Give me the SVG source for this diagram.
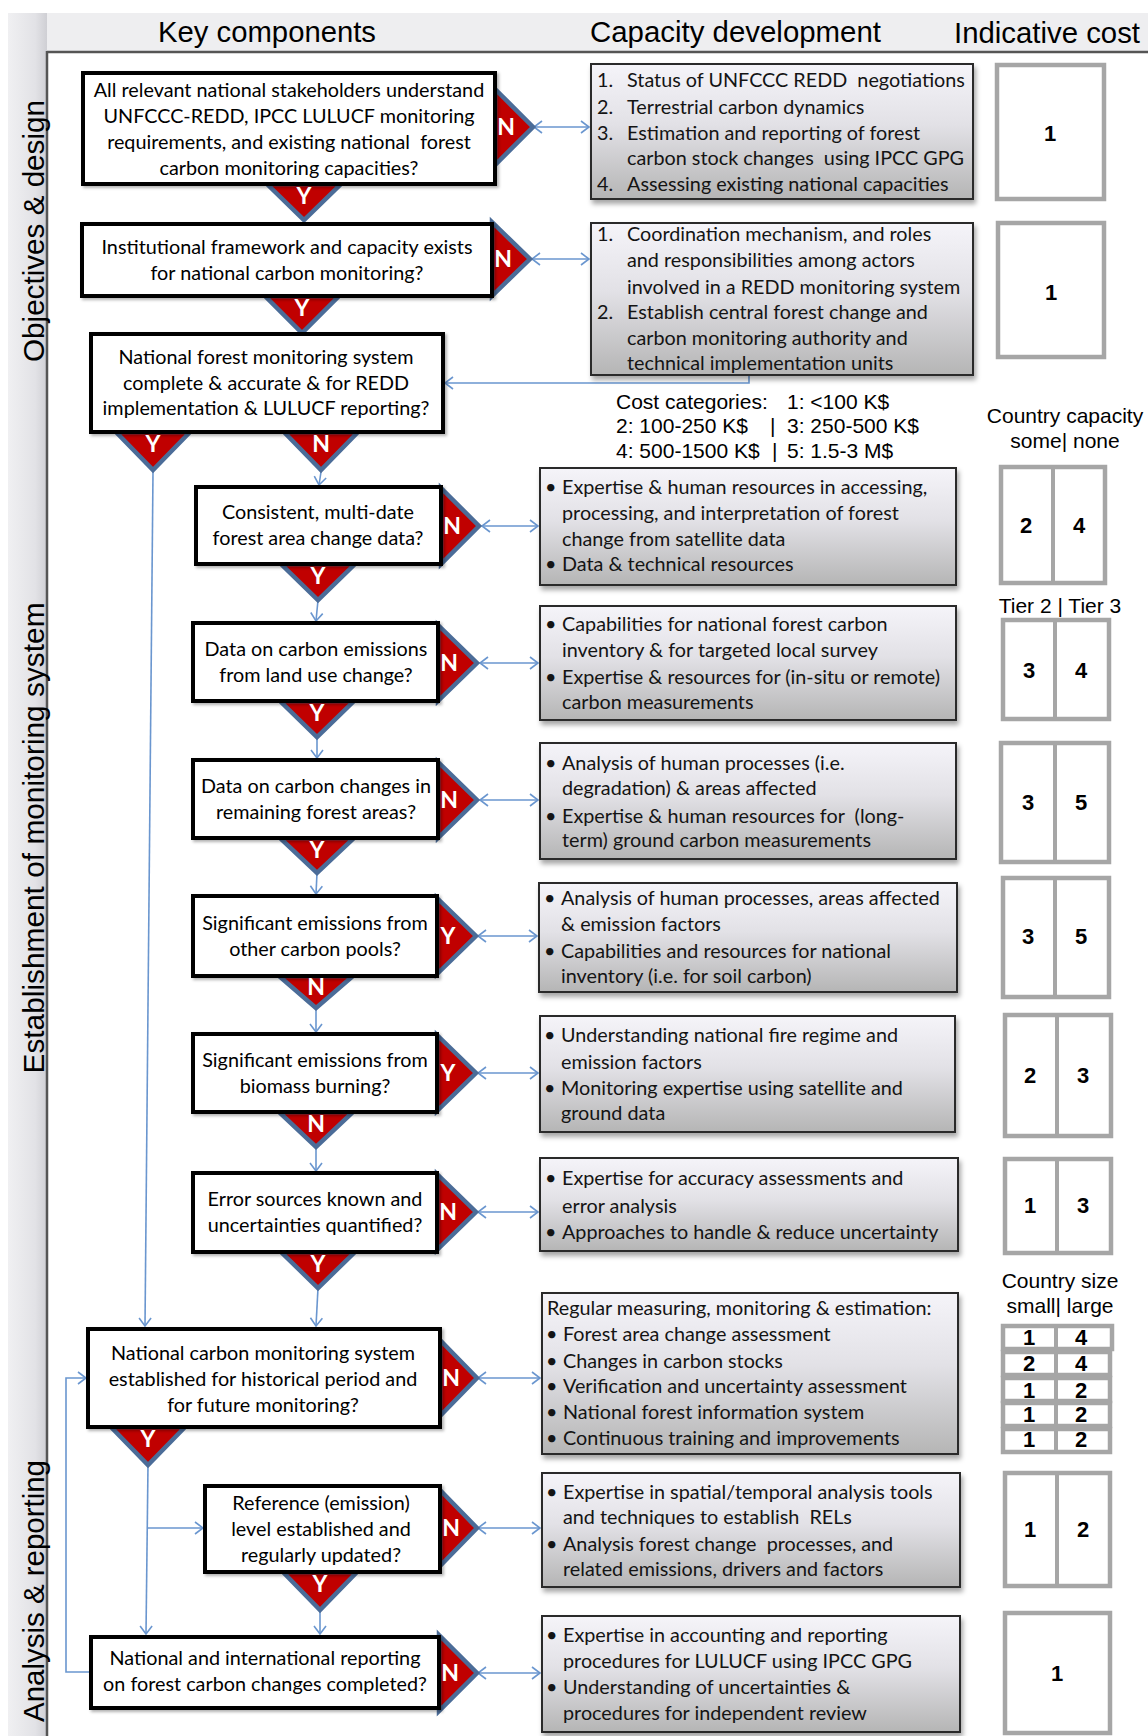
<svg xmlns="http://www.w3.org/2000/svg" width="1148" height="1736" viewBox="0 0 1148 1736">
<defs>
<style>
.kb{fill:#fff;stroke:#000;stroke-width:4;filter:url(#ks)}
.kt{font-family:Lato,"Liberation Sans",sans-serif;font-size:19.8px;text-anchor:middle;fill:#000}
.cb{fill:url(#cg);stroke:#2b2b2b;stroke-width:2;filter:url(#cs)}
.ct{font-family:Lato,"Liberation Sans",sans-serif;font-size:19.8px;fill:#141414}
.tr{fill:#C00000;stroke:#4B6C98;stroke-width:4.5;stroke-linejoin:miter}
.yn{font-family:Lato,"Liberation Sans",sans-serif;font-weight:700;font-size:23px;fill:#fff;text-anchor:middle}
.co{fill:#fff;stroke:#A6A6A6;stroke-width:4.5}
.cd{stroke:#A6A6A6;stroke-width:4}
.cn{font-family:"Liberation Sans",Arial,sans-serif;font-weight:700;font-size:22px;text-anchor:middle;fill:#000}
.ln{fill:none;stroke:#6A96CF;stroke-width:1.6}
.hd{font-family:"Liberation Sans",Arial,sans-serif;font-size:29px;fill:#000}
.lg{font-family:"Liberation Sans",Arial,sans-serif;font-size:21px;fill:#000}
</style>
<linearGradient id="cg" x1="0" y1="0" x2="0" y2="1">
<stop offset="0" stop-color="#F5F4F9"/>
<stop offset="0.45" stop-color="#E2E1E6"/>
<stop offset="1" stop-color="#B5B5B5"/>
</linearGradient>
<linearGradient id="lg" x1="0" y1="0" x2="1" y2="0">
<stop offset="0" stop-color="#F0F0F2"/>
<stop offset="0.7" stop-color="#E2E2E6"/>
<stop offset="1" stop-color="#CFCFD4"/>
</linearGradient>
<filter id="ks" x="-5%" y="-5%" width="112%" height="115%">
<feDropShadow dx="2" dy="2" stdDeviation="1.5" flood-color="#000" flood-opacity="0.3"/>
</filter>
<filter id="cs" x="-5%" y="-5%" width="112%" height="120%">
<feDropShadow dx="2" dy="4" stdDeviation="2.5" flood-color="#000" flood-opacity="0.35"/>
</filter>
<marker id="ah" viewBox="0 0 10 14" refX="9" refY="7" markerWidth="10" markerHeight="14" markerUnits="userSpaceOnUse" orient="auto-start-reverse">
<path d="M1,1 L9,7 L1,13" fill="none" stroke="#6A96CF" stroke-width="1.6"/>
</marker>
</defs>

<rect width="1148" height="1736" fill="#fff"/>

<g id="frame">
<rect x="8" y="13" width="1140" height="39" fill="#EEEEF0"/>
<rect x="8" y="13" width="39" height="1723" fill="url(#lg)"/>
<path d="M47,52 H1148 M47,51 V1736" stroke="#555" stroke-width="2.5" fill="none"/>
<text class="hd" x="158" y="42" textLength="218" lengthAdjust="spacingAndGlyphs">Key components</text>
<text class="hd" x="590" y="42" textLength="291" lengthAdjust="spacingAndGlyphs">Capacity development</text>
<text class="hd" x="954" y="43" textLength="186" lengthAdjust="spacingAndGlyphs">Indicative cost</text>
<text class="hd" transform="translate(44,231) rotate(-90)" text-anchor="middle" textLength="262" lengthAdjust="spacingAndGlyphs">Objectives &amp; design</text>
<text class="hd" transform="translate(44,838) rotate(-90)" text-anchor="middle" textLength="471" lengthAdjust="spacingAndGlyphs">Establishment of monitoring system</text>
<text class="hd" transform="translate(44,1591) rotate(-90)" text-anchor="middle" textLength="262" lengthAdjust="spacingAndGlyphs">Analysis &amp; reporting</text>
</g>

<g id="connectors">
<path class="ln" d="M534,127 H589" marker-start="url(#ah)" marker-end="url(#ah)"/>
<path class="ln" d="M532,259 H589" marker-start="url(#ah)" marker-end="url(#ah)"/>
<path class="ln" d="M749,376 V383 H445" marker-end="url(#ah)"/>
<path class="ln" d="M321,472 L319,485" marker-end="url(#ah)"/>
<path class="ln" d="M153,472 L145,1326" marker-end="url(#ah)"/>
<path class="ln" d="M482,526 H538" marker-start="url(#ah)" marker-end="url(#ah)"/>
<path class="ln" d="M318,600 L316,621" marker-end="url(#ah)"/>
<path class="ln" d="M480,663 H538" marker-start="url(#ah)" marker-end="url(#ah)"/>
<path class="ln" d="M317,737 V758" marker-end="url(#ah)"/>
<path class="ln" d="M480,800 H538" marker-start="url(#ah)" marker-end="url(#ah)"/>
<path class="ln" d="M317,873 L316,894" marker-end="url(#ah)"/>
<path class="ln" d="M478,936 H537" marker-start="url(#ah)" marker-end="url(#ah)"/>
<path class="ln" d="M316,1008 V1032" marker-end="url(#ah)"/>
<path class="ln" d="M478,1073 H538" marker-start="url(#ah)" marker-end="url(#ah)"/>
<path class="ln" d="M316,1147 V1171" marker-end="url(#ah)"/>
<path class="ln" d="M478,1212 H538" marker-start="url(#ah)" marker-end="url(#ah)"/>
<path class="ln" d="M318,1288 L316,1326" marker-end="url(#ah)"/>
<path class="ln" d="M478,1378 H540" marker-start="url(#ah)" marker-end="url(#ah)"/>
<path class="ln" d="M148,1465 L146,1634" marker-end="url(#ah)"/>
<path class="ln" d="M147,1528 H203" marker-end="url(#ah)"/>
<path class="ln" d="M478,1528 H540" marker-start="url(#ah)" marker-end="url(#ah)"/>
<path class="ln" d="M320,1610 V1634" marker-end="url(#ah)"/>
<path class="ln" d="M478,1673 H540" marker-start="url(#ah)" marker-end="url(#ah)"/>
<path class="ln" d="M89,1672 H66 V1378 H86" marker-end="url(#ah)"/>
</g>

<g id="k1">
<polygon class="tr" points="495,89 533,127 495,165"/>
<polygon class="tr" points="267,184 341,184 304,220"/>
<rect class="kb" x="83" y="73" width="412" height="111"/>
<text class="kt" xml:space="preserve"><tspan x="289" y="97">All relevant national stakeholders understand</tspan><tspan x="289" y="123">UNFCCC-REDD, IPCC LULUCF monitoring</tspan><tspan x="289" y="149">requirements, and existing national  forest</tspan><tspan x="289" y="175">carbon monitoring capacities?</tspan></text>
<text class="yn" x="506" y="135">N</text>
<text class="yn" x="304" y="204">Y</text>
</g>

<g id="k2">
<polygon class="tr" points="492,222 530,259 492,296"/>
<polygon class="tr" points="265,296 339,296 302,333"/>
<rect class="kb" x="82" y="224" width="410" height="72"/>
<text class="kt"><tspan x="287" y="254">Institutional framework and capacity exists</tspan><tspan x="287" y="280">for national carbon monitoring?</tspan></text>
<text class="yn" x="503" y="267">N</text>
<text class="yn" x="302" y="316">Y</text>
</g>

<g id="k3">
<polygon class="tr" points="116,432 190,432 153,470"/>
<polygon class="tr" points="284,432 358,432 321,470"/>
<rect class="kb" x="91" y="334" width="352" height="98"/>
<text class="kt"><tspan x="266" y="364">National forest monitoring system</tspan><tspan x="266" y="390">complete &amp; accurate &amp; for REDD</tspan><tspan x="266" y="415">implementation &amp; LULUCF reporting?</tspan></text>
<text class="yn" x="153" y="452">Y</text>
<text class="yn" x="321" y="452">N</text>
</g>

<g id="k4">
<polygon class="tr" points="441,488 479,526 441,564"/>
<polygon class="tr" points="281,564 355,564 318,600"/>
<rect class="kb" x="196" y="487" width="245" height="77"/>
<text class="kt"><tspan x="318" y="519">Consistent, multi-date</tspan><tspan x="318" y="545">forest area change data?</tspan></text>
<text class="yn" x="452" y="534">N</text>
<text class="yn" x="318" y="584">Y</text>
</g>

<g id="k5">
<polygon class="tr" points="438,625 477,663 438,701"/>
<polygon class="tr" points="280,701 354,701 317,737"/>
<rect class="kb" x="193" y="623" width="245" height="78"/>
<text class="kt"><tspan x="316" y="656">Data on carbon emissions</tspan><tspan x="316" y="682">from land use change?</tspan></text>
<text class="yn" x="449" y="671">N</text>
<text class="yn" x="317" y="721">Y</text>
</g>

<g id="k6">
<polygon class="tr" points="438,762 477,800 438,838"/>
<polygon class="tr" points="280,838 354,838 317,873"/>
<rect class="kb" x="193" y="760" width="245" height="78"/>
<text class="kt"><tspan x="316" y="793">Data on carbon changes in</tspan><tspan x="316" y="819">remaining forest areas?</tspan></text>
<text class="yn" x="449" y="808">N</text>
<text class="yn" x="317" y="858">Y</text>
</g>

<g id="k7">
<polygon class="tr" points="437,898 476,936 437,974"/>
<polygon class="tr" points="279,976 353,976 316,1008"/>
<rect class="kb" x="193" y="896" width="244" height="80"/>
<text class="kt"><tspan x="315" y="930">Significant emissions from</tspan><tspan x="315" y="956">other carbon pools?</tspan></text>
<text class="yn" x="448" y="944">Y</text>
<text class="yn" x="316" y="995">N</text>
</g>

<g id="k8">
<polygon class="tr" points="437,1035 476,1073 437,1111"/>
<polygon class="tr" points="279,1112 353,1112 316,1147"/>
<rect class="kb" x="193" y="1034" width="244" height="78"/>
<text class="kt"><tspan x="315" y="1067">Significant emissions from</tspan><tspan x="315" y="1093">biomass burning?</tspan></text>
<text class="yn" x="448" y="1081">Y</text>
<text class="yn" x="316" y="1132">N</text>
</g>

<g id="k9">
<polygon class="tr" points="437,1174 476,1212 437,1250"/>
<polygon class="tr" points="281,1252 355,1252 318,1288"/>
<rect class="kb" x="193" y="1173" width="244" height="79"/>
<text class="kt"><tspan x="315" y="1206">Error sources known and</tspan><tspan x="315" y="1232">uncertainties quantified?</tspan></text>
<text class="yn" x="448" y="1220">N</text>
<text class="yn" x="318" y="1272">Y</text>
</g>

<g id="k10">
<polygon class="tr" points="440,1340 477,1378 440,1416"/>
<polygon class="tr" points="111,1427 185,1427 148,1465"/>
<rect class="kb" x="88" y="1329" width="352" height="98"/>
<text class="kt"><tspan x="263" y="1360">National carbon monitoring system</tspan><tspan x="263" y="1386">established for historical period and</tspan><tspan x="263" y="1412">for future monitoring?</tspan></text>
<text class="yn" x="451" y="1386">N</text>
<text class="yn" x="148" y="1447">Y</text>
</g>

<g id="k11">
<polygon class="tr" points="440,1490 477,1528 440,1566"/>
<polygon class="tr" points="283,1572 357,1572 320,1610"/>
<rect class="kb" x="205" y="1486" width="235" height="86"/>
<text class="kt"><tspan x="321" y="1510">Reference (emission)</tspan><tspan x="321" y="1536">level established and</tspan><tspan x="321" y="1562">regularly updated?</tspan></text>
<text class="yn" x="451" y="1536">N</text>
<text class="yn" x="320" y="1592">Y</text>
</g>

<g id="k12">
<polygon class="tr" points="439,1635 477,1673 439,1711"/>
<rect class="kb" x="91" y="1637" width="348" height="71"/>
<text class="kt"><tspan x="265" y="1665">National and international reporting</tspan><tspan x="265" y="1691">on forest carbon changes completed?</tspan></text>
<text class="yn" x="450" y="1681">N</text>
</g>

<g id="cap1">
<rect class="cb" x="591" y="64" width="382" height="135"/>
<text class="ct" xml:space="preserve"><tspan x="597" y="87">1.</tspan><tspan x="627" y="87">Status of UNFCCC REDD  negotiations</tspan><tspan x="597" y="114">2.</tspan><tspan x="627" y="114">Terrestrial carbon dynamics</tspan><tspan x="597" y="140">3.</tspan><tspan x="627" y="140">Estimation and reporting of forest</tspan><tspan x="627" y="165">carbon stock changes  using IPCC GPG</tspan><tspan x="597" y="191">4.</tspan><tspan x="627" y="191">Assessing existing national capacities</tspan></text>
</g>

<g id="cap2">
<rect class="cb" x="591" y="223" width="382" height="152"/>
<text class="ct"><tspan x="597" y="241">1.</tspan><tspan x="627" y="241">Coordination mechanism, and roles</tspan><tspan x="627" y="267">and responsibilities among actors</tspan><tspan x="627" y="294">involved in a REDD monitoring system</tspan><tspan x="597" y="319">2.</tspan><tspan x="627" y="319">Establish central forest change and</tspan><tspan x="627" y="345">carbon monitoring authority and</tspan><tspan x="627" y="370">technical implementation units</tspan></text>
</g>

<g id="cap3">
<rect class="cb" x="540" y="468" width="416" height="117"/>
<text class="ct"><tspan x="545" y="494">•</tspan><tspan x="562" y="494">Expertise &amp; human resources in accessing,</tspan><tspan x="562" y="520">processing, and interpretation of forest</tspan><tspan x="562" y="546">change from satellite data</tspan><tspan x="545" y="571">•</tspan><tspan x="562" y="571">Data &amp; technical resources</tspan></text>
</g>

<g id="cap4">
<rect class="cb" x="540" y="606" width="416" height="114"/>
<text class="ct"><tspan x="545" y="631">•</tspan><tspan x="562" y="631">Capabilities for national forest carbon</tspan><tspan x="562" y="657">inventory &amp; for targeted local survey</tspan><tspan x="545" y="684">•</tspan><tspan x="562" y="684">Expertise &amp; resources for (in-situ or remote)</tspan><tspan x="562" y="709">carbon measurements</tspan></text>
</g>

<g id="cap5">
<rect class="cb" x="540" y="743" width="416" height="116"/>
<text class="ct" xml:space="preserve"><tspan x="545" y="770">•</tspan><tspan x="562" y="770">Analysis of human processes (i.e.</tspan><tspan x="562" y="795">degradation) &amp; areas affected</tspan><tspan x="545" y="823">•</tspan><tspan x="562" y="823">Expertise &amp; human resources for  (long-</tspan><tspan x="562" y="847">term) ground carbon measurements</tspan></text>
</g>

<g id="cap6">
<rect class="cb" x="539" y="883" width="418" height="109"/>
<text class="ct"><tspan x="544" y="905">•</tspan><tspan x="561" y="905">Analysis of human processes, areas affected</tspan><tspan x="561" y="931">&amp; emission factors</tspan><tspan x="544" y="958">•</tspan><tspan x="561" y="958">Capabilities and resources for national</tspan><tspan x="561" y="983">inventory (i.e. for soil carbon)</tspan></text>
</g>

<g id="cap7">
<rect class="cb" x="540" y="1016" width="415" height="116"/>
<text class="ct"><tspan x="544" y="1042">•</tspan><tspan x="561" y="1042">Understanding national fire regime and</tspan><tspan x="561" y="1069">emission factors</tspan><tspan x="544" y="1095">•</tspan><tspan x="561" y="1095">Monitoring expertise using satellite and</tspan><tspan x="561" y="1120">ground data</tspan></text>
</g>

<g id="cap8">
<rect class="cb" x="540" y="1158" width="418" height="93"/>
<text class="ct"><tspan x="545" y="1185">•</tspan><tspan x="562" y="1185">Expertise for accuracy assessments and</tspan><tspan x="562" y="1213">error analysis</tspan><tspan x="545" y="1239">•</tspan><tspan x="562" y="1239">Approaches to handle &amp; reduce uncertainty</tspan></text>
</g>

<g id="cap9">
<rect class="cb" x="542" y="1293" width="416" height="161"/>
<text class="ct"><tspan x="547" y="1315">Regular measuring, monitoring &amp; estimation:</tspan><tspan x="546" y="1341">•</tspan><tspan x="563" y="1341">Forest area change assessment</tspan><tspan x="546" y="1368">•</tspan><tspan x="563" y="1368">Changes in carbon stocks</tspan><tspan x="546" y="1393">•</tspan><tspan x="563" y="1393">Verification and uncertainty assessment</tspan><tspan x="546" y="1419">•</tspan><tspan x="563" y="1419">National forest information system</tspan><tspan x="546" y="1445">•</tspan><tspan x="563" y="1445">Continuous training and improvements</tspan></text>
</g>

<g id="cap10">
<rect class="cb" x="542" y="1473" width="418" height="114"/>
<text class="ct" xml:space="preserve"><tspan x="546" y="1499">•</tspan><tspan x="563" y="1499">Expertise in spatial/temporal analysis tools</tspan><tspan x="563" y="1524">and techniques to establish  RELs</tspan><tspan x="546" y="1551">•</tspan><tspan x="563" y="1551">Analysis forest change  processes, and</tspan><tspan x="563" y="1576">related emissions, drivers and factors</tspan></text>
</g>

<g id="cap11">
<rect class="cb" x="542" y="1616" width="418" height="116"/>
<text class="ct"><tspan x="546" y="1642">•</tspan><tspan x="563" y="1642">Expertise in accounting and reporting</tspan><tspan x="563" y="1668">procedures for LULUCF using IPCC GPG</tspan><tspan x="546" y="1694">•</tspan><tspan x="563" y="1694">Understanding of uncertainties &amp;</tspan><tspan x="563" y="1720">procedures for independent review</tspan></text>
</g>

<g id="legend">
<text class="lg"><tspan x="616" y="409">Cost categories:</tspan><tspan x="787" y="409">1: &lt;100 K$</tspan></text>
<text class="lg"><tspan x="616" y="433">2: 100-250 K$</tspan><tspan x="770" y="433">|</tspan><tspan x="787" y="433">3: 250-500 K$</tspan></text>
<text class="lg"><tspan x="616" y="458">4: 500-1500 K$</tspan><tspan x="772" y="458">|</tspan><tspan x="787" y="458">5: 1.5-3 M$</tspan></text>
<text class="lg" text-anchor="middle"><tspan x="1065" y="423">Country capacity</tspan><tspan x="1065" y="448">some| none</tspan></text>
<text class="lg" text-anchor="middle" x="1060" y="613">Tier 2 | Tier 3</text>
<text class="lg" text-anchor="middle"><tspan x="1060" y="1288">Country size</tspan><tspan x="1060" y="1313">small| large</tspan></text>
</g>

<g id="cost1"><rect class="co" x="997" y="65" width="107" height="134"/><text class="cn" x="1050" y="141">1</text></g>
<g id="cost2"><rect class="co" x="998" y="223" width="106" height="134"/><text class="cn" x="1051" y="300">1</text></g>
<g id="cost3"><rect class="co" x="1001" y="467" width="104" height="116"/><line class="cd" x1="1053" y1="467" x2="1053" y2="583"/><text class="cn" x="1026" y="533">2</text><text class="cn" x="1079" y="533">4</text></g>
<g id="cost4"><rect class="co" x="1003" y="620" width="106" height="99"/><line class="cd" x1="1055" y1="620" x2="1055" y2="719"/><text class="cn" x="1029" y="678">3</text><text class="cn" x="1081" y="678">4</text></g>
<g id="cost5"><rect class="co" x="1001" y="743" width="108" height="119"/><line class="cd" x1="1055" y1="743" x2="1055" y2="862"/><text class="cn" x="1028" y="810">3</text><text class="cn" x="1081" y="810">5</text></g>
<g id="cost6"><rect class="co" x="1003" y="878" width="106" height="119"/><line class="cd" x1="1055" y1="878" x2="1055" y2="997"/><text class="cn" x="1028" y="944">3</text><text class="cn" x="1081" y="944">5</text></g>
<g id="cost7"><rect class="co" x="1005" y="1015" width="106" height="121"/><line class="cd" x1="1057" y1="1015" x2="1057" y2="1136"/><text class="cn" x="1030" y="1083">2</text><text class="cn" x="1083" y="1083">3</text></g>
<g id="cost8"><rect class="co" x="1005" y="1159" width="106" height="94"/><line class="cd" x1="1057" y1="1159" x2="1057" y2="1253"/><text class="cn" x="1030" y="1213">1</text><text class="cn" x="1083" y="1213">3</text></g>
<g id="cost9">
<rect class="co" x="1003" y="1326" width="109" height="23"/><line class="cd" x1="1056" y1="1326" x2="1056" y2="1349"/>
<rect class="co" x="1003" y="1352" width="107" height="23"/><line class="cd" x1="1056" y1="1352" x2="1056" y2="1375"/>
<rect class="co" x="1003" y="1378" width="107" height="23"/><line class="cd" x1="1056" y1="1378" x2="1056" y2="1401"/>
<rect class="co" x="1003" y="1403" width="107" height="23"/><line class="cd" x1="1056" y1="1403" x2="1056" y2="1426"/>
<rect class="co" x="1003" y="1429" width="107" height="23"/><line class="cd" x1="1056" y1="1429" x2="1056" y2="1452"/>
<text class="cn" x="1029" y="1345">1</text><text class="cn" x="1081" y="1345">4</text>
<text class="cn" x="1029" y="1371">2</text><text class="cn" x="1081" y="1371">4</text>
<text class="cn" x="1029" y="1398">1</text><text class="cn" x="1081" y="1398">2</text>
<text class="cn" x="1029" y="1422">1</text><text class="cn" x="1081" y="1422">2</text>
<text class="cn" x="1029" y="1447">1</text><text class="cn" x="1081" y="1447">2</text>
</g>
<g id="cost10"><rect class="co" x="1005" y="1473" width="105" height="113"/><line class="cd" x1="1057" y1="1473" x2="1057" y2="1586"/><text class="cn" x="1030" y="1537">1</text><text class="cn" x="1083" y="1537">2</text></g>
<g id="cost11"><rect class="co" x="1005" y="1613" width="105" height="120"/><text class="cn" x="1057" y="1681">1</text></g>
</svg>
